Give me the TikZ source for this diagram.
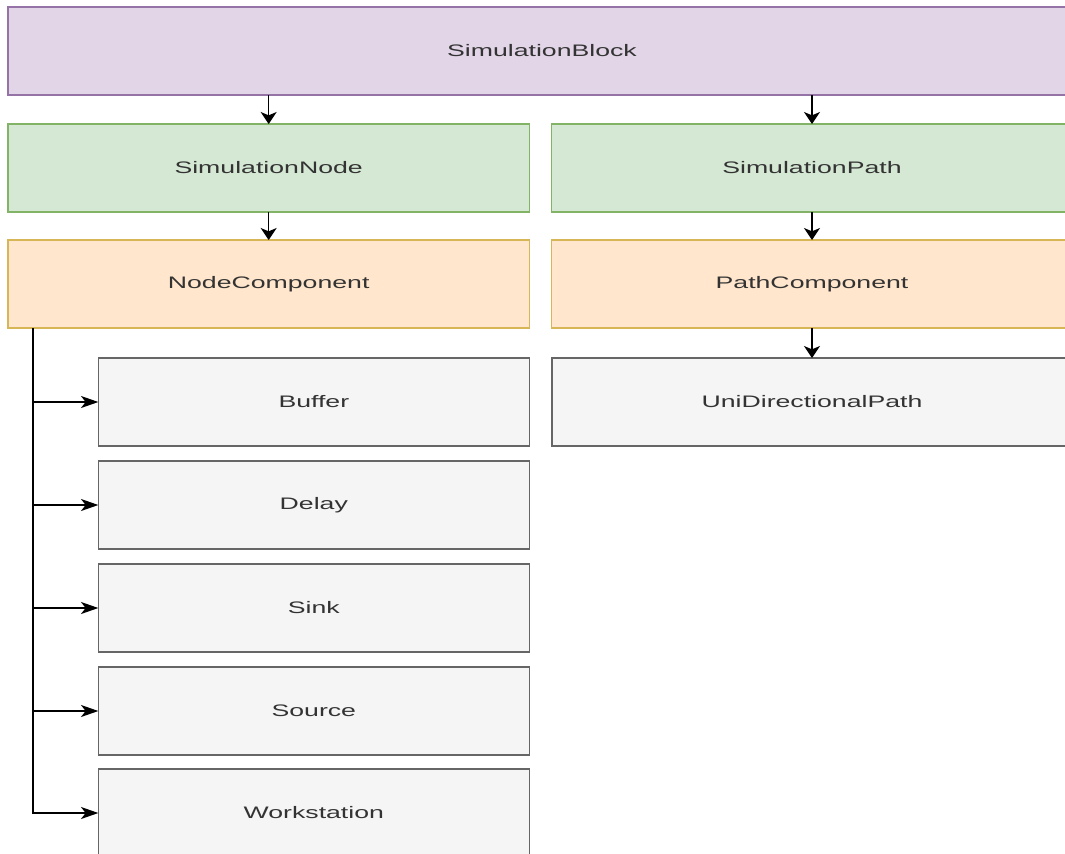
\documentclass[tikz,border=0pt]{standalone}
\usepackage{fontspec}
\newfontfamily\boxfont[FakeStretch=1.6]{Liberation Sans}
\usetikzlibrary{positioning,arrows.meta}

\definecolor{blockfill}{HTML}{E1D5E7}
\definecolor{blockline}{HTML}{9673A6}
\definecolor{simfill}{HTML}{D5E8D4}
\definecolor{simline}{HTML}{82B366}
\definecolor{compfill}{HTML}{FFE6CC}
\definecolor{compline}{HTML}{D6B656}
\definecolor{leaffill}{HTML}{F5F5F5}
\definecolor{leafline}{HTML}{666666}
\definecolor{labeltext}{HTML}{333333}

\tikzset{
  box/.style={draw,rectangle,line width=1pt,outer sep=0pt,minimum height=66pt,
    text=labeltext,font=\boxfont\fontsize{12.5pt}{14pt}\selectfont},
  blockbox/.style={box,fill=blockfill,draw=blockline,minimum width=801pt},
  simbox/.style={box,fill=simfill,draw=simline,minimum width=391pt},
  compbox/.style={box,fill=compfill,draw=compline,minimum width=391pt},
  leafbox/.style={box,fill=leaffill,draw=leafline,minimum width=323.25pt},
  down/.style={-{Stealth[length=9pt,width=12pt,inset=2.5pt]},line width=1.1pt},
  branch/.style={-{Stealth[length=13pt,width=9pt,inset=3.5pt]},line width=1.1pt},
}

\begin{document}
\begin{tikzpicture}[x=0.75pt,y=0.75pt]
\clip (0,0) rectangle (1065,-854);
\fill[white] (0,0) rectangle (1065,-854);

\node[blockbox,anchor=north west] (block) at (8,-7) {SimulationBlock};
\node[simbox] (simnode) [below right=21.75pt and 0pt of block.south west] {SimulationNode};
\node[simbox] (simpath) [right=16.5pt of simnode] {SimulationPath};
\node[compbox] (nodecomp) [below=21pt of simnode] {NodeComponent};
\node[compbox] (pathcomp) [below=21pt of simpath] {PathComponent};
\node[leafbox,minimum width=390pt] (unipath) [below=22.5pt of pathcomp] {UniDirectionalPath};

% children of NodeComponent
\node[leafbox] (buffer) [below left=22.5pt and 0pt of nodecomp.south east] {Buffer};
\node[leafbox] (delay) [below=11.25pt of buffer] {Delay};
\node[leafbox] (sink) [below=11.25pt of delay] {Sink};
\node[leafbox] (source) [below=11.25pt of sink] {Source};
\node[leafbox] (workstation) [below=10.5pt of source] {Workstation};

\draw[down] (simnode |- block.south) -- (simnode);
\draw[down] (simpath |- block.south) -- (simpath);
\draw[down] (simnode) -- (nodecomp);
\draw[down] (simpath) -- (pathcomp);
\draw[down] (pathcomp) -- (unipath);

\coordinate (trunk) at ([xshift=18.75pt]nodecomp.south west);
\foreach \leaf in {buffer,delay,sink,source,workstation}
  \draw[branch] (trunk) |- (\leaf);
\end{tikzpicture}
\end{document}
